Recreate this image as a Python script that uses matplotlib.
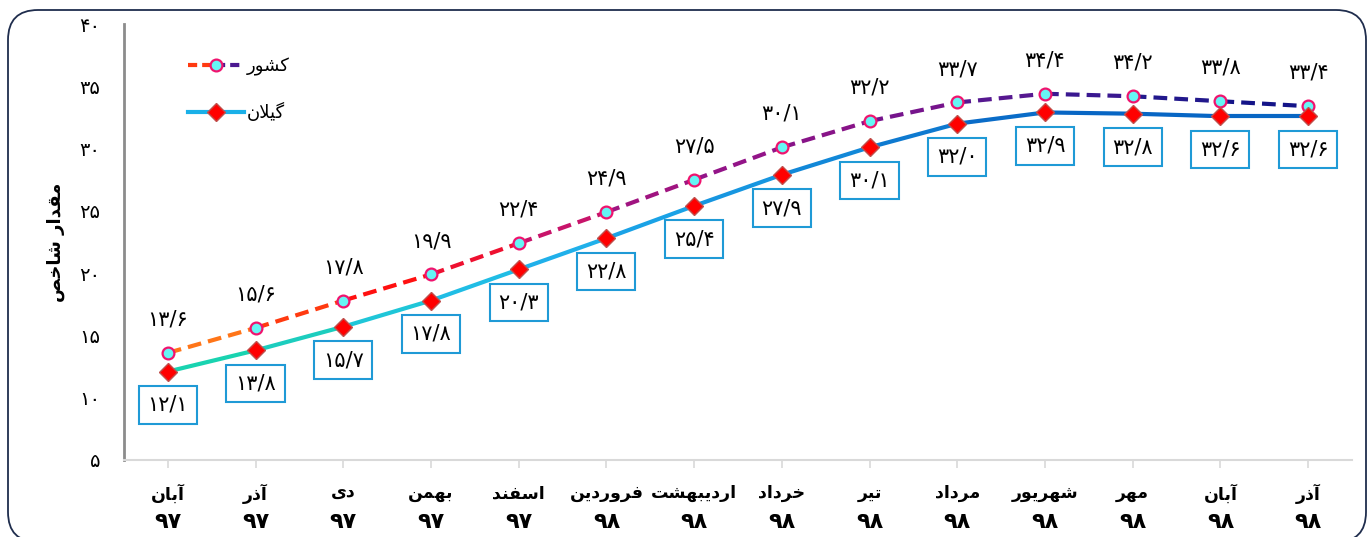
import numpy as np
import matplotlib.pyplot as plt
from matplotlib.lines import Line2D
from matplotlib.patches import FancyBboxPatch

# داده‌ها
months = ['آبان', 'آذر', 'دی', 'بهمن', 'اسفند', 'فروردین', 'اردیبهشت',
          'خرداد', 'تیر', 'مرداد', 'شهریور', 'مهر', 'آبان', 'آذر']
years = ['۹۷', '۹۷', '۹۷', '۹۷', '۹۷', '۹۸', '۹۸',
         '۹۸', '۹۸', '۹۸', '۹۸', '۹۸', '۹۸', '۹۸']
keshvar = [13.6, 15.6, 17.8, 19.9, 22.4, 24.9, 27.5, 30.1, 32.2, 33.7, 34.4, 34.2, 33.8, 33.4]
gilan = [12.1, 13.8, 15.7, 17.8, 20.3, 22.8, 25.4, 27.9, 30.1, 32.0, 32.9, 32.8, 32.6, 32.6]
yticks = [5, 10, 15, 20, 25, 30, 35, 40]
name_k = 'کشور'
name_g = 'گیلان'
ylabel = 'مقدار شاخص'

# شکل‌دهی ساده حروف فارسی (matplotlib خودش اتصال و راست‌به‌چپ ندارد)
FORMS = {
    'ا': ('\uFE8D', '\uFE8E'), 'آ': ('\uFE81', '\uFE82'),
    'د': ('\uFEA9', '\uFEAA'), 'ذ': ('\uFEAB', '\uFEAC'),
    'ر': ('\uFEAD', '\uFEAE'), 'و': ('\uFEED', '\uFEEE'),
    'ب': ('\uFE8F', '\uFE90', '\uFE91', '\uFE92'),
    'ت': ('\uFE95', '\uFE96', '\uFE97', '\uFE98'),
    'خ': ('\uFEA5', '\uFEA6', '\uFEA7', '\uFEA8'),
    'س': ('\uFEB1', '\uFEB2', '\uFEB3', '\uFEB4'),
    'ش': ('\uFEB5', '\uFEB6', '\uFEB7', '\uFEB8'),
    'ص': ('\uFEB9', '\uFEBA', '\uFEBB', '\uFEBC'),
    'ف': ('\uFED1', '\uFED2', '\uFED3', '\uFED4'),
    'ق': ('\uFED5', '\uFED6', '\uFED7', '\uFED8'),
    'ل': ('\uFEDD', '\uFEDE', '\uFEDF', '\uFEE0'),
    'م': ('\uFEE1', '\uFEE2', '\uFEE3', '\uFEE4'),
    'ن': ('\uFEE5', '\uFEE6', '\uFEE7', '\uFEE8'),
    'ه': ('\uFEE9', '\uFEEA', '\uFEEB', '\uFEEC'),
    'ی': ('\uFBFC', '\uFBFD', '\uFBFE', '\uFBFF'),
    'ک': ('\uFB8E', '\uFB8F', '\uFB90', '\uFB91'),
    'گ': ('\uFB92', '\uFB93', '\uFB94', '\uFB95'),
}


def shape(txt):
    out = []
    i = 0
    while i < len(txt):
        ch = txt[i]
        prev = txt[i - 1] if i > 0 else ''
        nxt = txt[i + 1] if i + 1 < len(txt) else ''
        jp = prev in FORMS and len(FORMS[prev]) == 4
        if ch not in FORMS:
            out.append(ch)
            i += 1
            continue
        if ch == 'ل' and nxt == 'ا':
            out.append('\uFEFC' if jp else '\uFEFB')
            i += 2
            continue
        f = FORMS[ch]
        jn = len(f) == 4 and nxt in FORMS
        if jp and jn:
            out.append(f[3])
        elif jp:
            out.append(f[1])
        elif jn:
            out.append(f[2])
        else:
            out.append(f[0])
        i += 1
    return ''.join(out)[::-1]


def fa(v, dec=True):
    s = f'{v:.1f}'.replace('.', '/') if dec else str(v)
    return s.translate(str.maketrans('0123456789', '۰۱۲۳۴۵۶۷۸۹'))


plt.rcParams['font.family'] = ['DejaVu Sans']

k_colors = ['#FF7518', '#FF3A10', '#FF1010', '#EE1030', '#C8146A', '#A01480', '#931488',
            '#881488', '#76148C', '#561890', '#3A1890', '#22188C', '#141488']
g_colors = ['#19D3B0', '#1CCDBE', '#1FC6D8', '#20BDE5', '#20B0EA', '#1AA2E6', '#1796E0',
            '#1288D8', '#0E7AD0', '#0A6CC8', '#0866C4', '#0866C4', '#0866C4']

fig = plt.figure(figsize=(13.72, 5.37), dpi=100)
ax = fig.add_axes([0.0904, 0.1434, 0.8950, 0.8119])

x = np.arange(len(months))
for i in range(len(x) - 1):
    ax.plot(x[i:i + 2], keshvar[i:i + 2], color=k_colors[i], lw=3, ls=(0, (3.3, 1.7)),
            solid_capstyle='butt', zorder=2)
    ax.plot(x[i:i + 2], gilan[i:i + 2], color=g_colors[i], lw=3, zorder=2)
ax.plot(x, keshvar, ls='none', marker='o', ms=8.5, mfc='#66F5F5', mec='#F0136E', mew=1.6, zorder=4)
ax.plot(x, gilan, ls='none', marker='D', ms=9.5, mfc='#FF0000', mec='#C0504D', mew=1, zorder=4)

for xi, v in zip(x, keshvar):
    ax.annotate(fa(v), (xi, v), xytext=(0, 24), textcoords='offset points',
                ha='center', va='center', fontsize=15)
for xi, v in zip(x, gilan):
    ax.annotate(fa(v), (xi, v), xytext=(0, -24), textcoords='offset points',
                ha='center', va='center', fontsize=15,
                bbox=dict(boxstyle='square,pad=0.42', fc='white', ec='#1F9AD6', lw=1.5))

ax.set_xlim(-0.5, len(x) - 0.5)
ax.set_ylim(5, 40)
ax.set_yticks(yticks)
ax.set_yticklabels([fa(t, False) for t in yticks], fontsize=14)
ax.set_xticks(x)
ax.set_xticklabels([shape(m) for m in months], fontsize=12.5, fontweight='bold')
for xi, yr in zip(x, years):
    ax.annotate(yr, (xi, 0), xycoords=('data', 'axes fraction'), xytext=(0, -45),
                textcoords='offset points', ha='center', va='center',
                fontsize=16, fontweight='bold')
ax.tick_params(axis='y', length=0, pad=17)
ax.tick_params(axis='x', length=6, color='#D9D9D9', width=1.2, pad=11.5)
ax.set_ylabel(shape(ylabel), fontsize=13, fontweight='bold', labelpad=10)
for s in ('top', 'right'):
    ax.spines[s].set_visible(False)
ax.spines['left'].set_color('#8C8C8C')
ax.spines['left'].set_linewidth(2)
ax.spines['bottom'].set_color('#D9D9D9')
ax.spines['bottom'].set_linewidth(1.5)


class GradLine:
    def __init__(self, c1, c2, ls, mk):
        self.c1, self.c2, self.ls, self.mk = c1, c2, ls, mk

    def legend_artist(self, legend, orig_handle, fontsize, handlebox):
        x0, y0 = handlebox.xdescent, handlebox.ydescent
        w, h = handlebox.width, handlebox.height
        y = y0 + h / 2
        tr = handlebox.get_transform()
        a = Line2D([x0, x0 + w * 0.5], [y, y], color=self.c1, lw=3, ls=self.ls, transform=tr)
        b = Line2D([x0 + w * 0.5, x0 + w], [y, y], color=self.c2, lw=3, ls=self.ls, transform=tr)
        m = Line2D([x0 + w * 0.5], [y], ls='none', transform=tr, **self.mk)
        for art in (a, b, m):
            handlebox.add_artist(art)
        return m


hk = Line2D([], [])
hg = Line2D([], [])
ax.legend([hk, hg], [shape(name_k), shape(name_g)], loc='upper left',
          bbox_to_anchor=(0.046, 0.94), frameon=False, fontsize=13,
          handlelength=3.1, handletextpad=0.15, labelspacing=1.5, borderaxespad=0,
          handler_map={
              hk: GradLine('#FF3A10', '#4B1890', (0, (2.2, 1.2)),
                           dict(marker='o', ms=8.5, mfc='#66F5F5', mec='#F0136E', mew=1.6)),
              hg: GradLine('#1AB0E8', '#1AB0E8', '-',
                           dict(marker='D', ms=9, mfc='#FF0000', mec='#C0504D', mew=1)),
          })

border = FancyBboxPatch((8, -5), 1358, 532, boxstyle='round,pad=0,rounding_size=30',
                        transform=None, fc='none', ec='#1F2D4D', lw=1.3)
fig.patches.append(border)

fig.savefig('out.png', dpi=100)
